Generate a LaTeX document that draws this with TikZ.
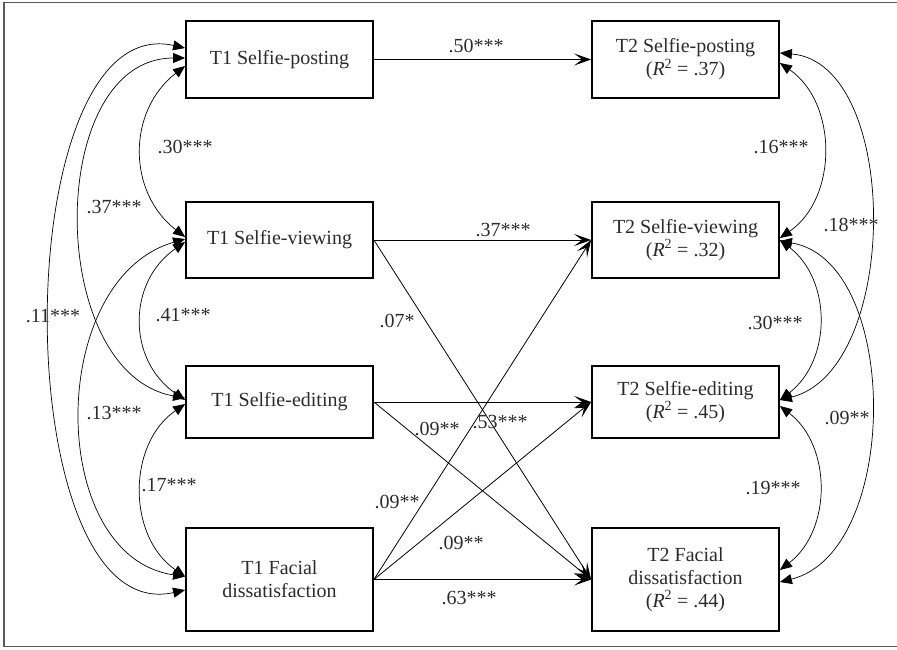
\documentclass[tikz,border=0pt]{standalone}
\usepackage{fontspec}
\setmainfont{Liberation Serif}
\usepackage{tikz}
\usetikzlibrary{calc,arrows.meta}
\definecolor{ink}{HTML}{2B2B2B}
\definecolor{frame}{HTML}{5A5A5A}
\tikzset{
  varbox/.style={draw=black, line width=1.8pt, minimum width=187pt, inner sep=0pt, text=ink, align=center, font=\fontsize{20}{23}\selectfont},
  effect/.style={draw=black, line width=0.8pt, -{Stealth[length=17pt,width=12pt,inset=8pt]}},
  cov/.style={draw=black, line width=0.7pt, {Triangle[length=12pt,width=10pt]}-{Triangle[length=12pt,width=10pt]}},
  coef/.style={text=ink, font=\fontsize{20}{23}\selectfont, inner sep=0pt},
}

\begin{document}
\begin{tikzpicture}[x=1pt,y=-1pt]
  \useasboundingbox (0,0) rectangle (897,649);
  \draw[draw=frame, line width=1.5pt] (897,2.5) -- (4,2.5) -- (4,646.5) -- (897,646.5);

  % time 1
  \node[varbox, minimum height=77pt] (post1) at (279.5,59.5) {T1 Selfie-posting};
  \node[varbox, minimum height=76pt] (view1) at (279.5,240) {T1 Selfie-viewing};
  \node[varbox, minimum height=72pt] (edit1) at (279.5,402) {T1 Selfie-editing};
  \node[varbox, minimum height=103pt] (face1) at (279.5,579.5) {T1 Facial\\dissatisfaction};

  % time 2
  \node[varbox, minimum height=77pt] (post2) at (685.5,59.5) {T2 Selfie-posting\\(\textit{R}\textsuperscript{2} = .37)};
  \node[varbox, minimum height=76pt] (view2) at (685.5,240) {T2 Selfie-viewing\\(\textit{R}\textsuperscript{2} = .32)};
  \node[varbox, minimum height=72pt] (edit2) at (685.5,402) {T2 Selfie-editing\\(\textit{R}\textsuperscript{2} = .45)};
  \node[varbox, minimum height=103pt] (face2) at (685.5,579.5) {T2 Facial\\dissatisfaction\\(\textit{R}\textsuperscript{2} = .44)};

  % paths
  \draw[effect] (post1.east) -- (post2.west);
  \draw[effect] (view1.east) -- (view2.west);
  \draw[effect] (edit1.east) -- (edit2.west);
  \draw[effect] (face1.east) -- (face2.west);
  \draw[effect] (view1.east) -- (face2.west);
  \draw[effect] (edit1.east) -- (face2.west);
  \draw[effect] (face1.east) -- (view2.west);
  \draw[effect] (face1.east) -- (edit2.west);

  % covariances at T1
  \draw[cov] ($(post1.west)+(0,-11.5)$) .. controls +(-180,-40) and +(-180,40) .. ($(face1.west)+(0,10.5)$);
  \draw[cov] ($(post1.west)+(0,-1.5)$) .. controls +(-140,0) and +(-140,-25) .. ($(edit1.west)+(0,-4)$);
  \draw[cov] ($(post1.west)+(0,6.5)$) .. controls +(-58,45) and +(-58,-45) .. ($(view1.west)+(0,-3)$);
  \draw[cov] ($(view1.west)+(0,2)$) .. controls +(-58,40) and +(-58,-40) .. ($(edit1.west)+(0,-2)$);
  \draw[cov] ($(view1.west)+(0,-1)$) .. controls +(-139,40) and +(-139,-20) .. ($(face1.west)+(0,-3)$);
  \draw[cov] ($(edit1.west)+(0,2)$) .. controls +(-58,40) and +(-58,-40) .. ($(face1.west)+(0,-3)$);

  % covariances at T2
  \draw[cov] ($(post2.east)+(0,-6.5)$) .. controls +(121,10) and +(121,-30) .. ($(edit2.east)+(0,-2)$);
  \draw[cov] ($(post2.east)+(0,3.5)$) .. controls +(58,40) and +(58,-40) .. ($(view2.east)+(0,-2)$);
  \draw[cov] ($(view2.east)+(0,0)$) .. controls +(52,40) and +(52,-40) .. ($(edit2.east)+(0,-2)$);
  \draw[cov] ($(view2.east)+(0,1)$) .. controls +(121,20) and +(121,-30) .. ($(face2.east)+(0,2.5)$);
  \draw[cov] ($(edit2.east)+(0,4)$) .. controls +(52,40) and +(52,-40) .. ($(face2.east)+(0,-9.5)$);

  % coefficients
  \node[coef] (c50) at (476,46) {.50***};
  \node[coef] (c37) at (503,230) {.37***};
  \node[coef] (c07) at (397,321) {.07*};
  \node[coef] (c09a) at (437,429) {.09**};
  \node[coef] (c53) at (500,422) {.53***};
  \node[coef] (c09b) at (397,502) {.09**};
  \node[coef] (c09c) at (461,543) {.09**};
  \node[coef] (c63) at (469,598) {.63***};

  \node[coef] (r30) at (185,147) {.30***};
  \node[coef] (r37) at (114,207) {.37***};
  \node[coef] (r11) at (53,316) {.11***};
  \node[coef] (r41) at (183,315) {.41***};
  \node[coef] (r13) at (114,413) {.13***};
  \node[coef] (r17) at (169,485) {.17***};

  \node[coef] (s16) at (781,147) {.16***};
  \node[coef] (s18) at (851,225) {.18***};
  \node[coef] (s30) at (775,323) {.30***};
  \node[coef] (s09) at (847,418) {.09**};
  \node[coef] (s19) at (773,488) {.19***};
\end{tikzpicture}
\end{document}
